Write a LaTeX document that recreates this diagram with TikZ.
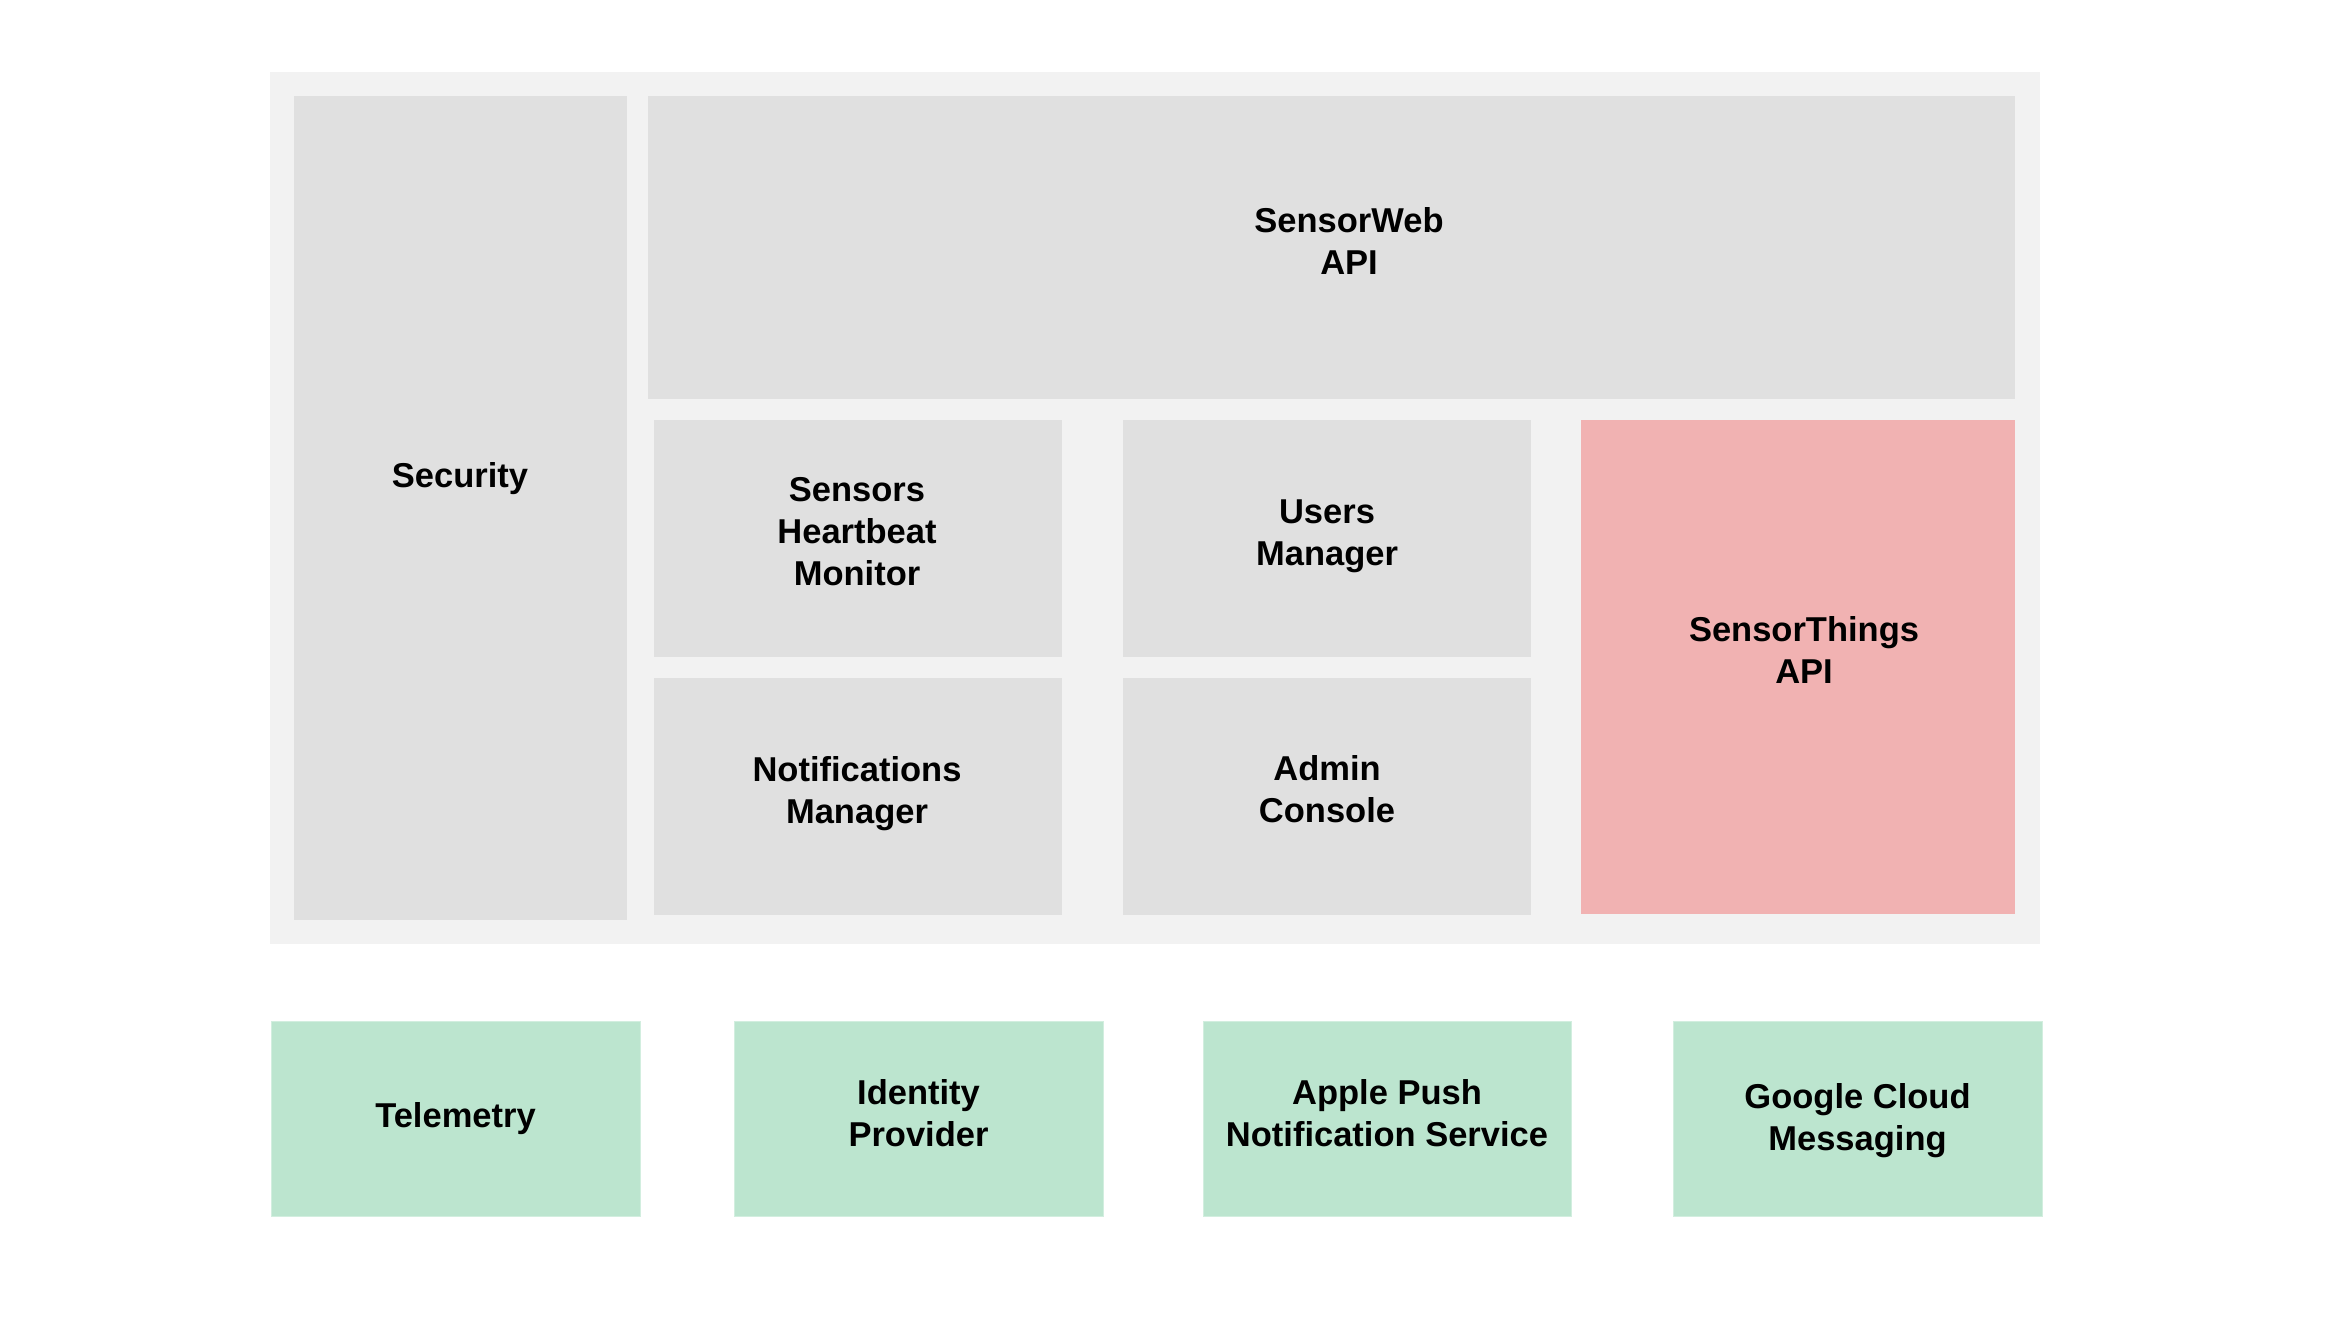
\documentclass[tikz,border=0pt]{standalone}
\usepackage{fontspec}
\setmainfont{Liberation Sans}
\definecolor{outerbg}{HTML}{F2F2F2}
\definecolor{boxgray}{HTML}{E0E0E0}
\definecolor{pinkbox}{HTML}{F1B2B2}
\definecolor{greenbox}{HTML}{BCE5CF}
\definecolor{greenedge}{HTML}{D2EEDF}
\tikzset{
  blk/.style={rectangle, inner sep=0pt, outer sep=0pt, draw=none},
  outerblk/.style={blk, fill=outerbg},
  grayblk/.style={blk, fill=boxgray},
  pinkblk/.style={blk, fill=pinkbox},
  greenblk/.style={blk, fill=greenbox, draw=greenedge, line width=1pt},
  lbl/.style={inner sep=0pt, align=center, text=black,
    font=\fontsize{34.5}{42}\selectfont\bfseries}
}
\begin{document}
\begin{tikzpicture}[x=1pt, y=-1pt]
\useasboundingbox (0,0) rectangle (2349,1329);
% outer container
\node[outerblk, minimum width=1770pt, minimum height=872pt] (outer) at (1155,508) {};
% gray blocks
\node[grayblk, minimum width=333pt, minimum height=824pt] (security) at (460.5,508) {};
\node[grayblk, minimum width=1367pt, minimum height=303pt] (sensorweb) at (1331.5,247.5) {};
\node[grayblk, minimum width=408pt, minimum height=237pt] (heartbeat) at (858,538.5) {};
\node[grayblk, minimum width=408pt, minimum height=237pt] (users) at (1327,538.5) {};
\node[grayblk, minimum width=408pt, minimum height=237pt] (notif) at (858,796.5) {};
\node[grayblk, minimum width=408pt, minimum height=237pt] (admin) at (1327,796.5) {};
\node[pinkblk, minimum width=434pt, minimum height=494pt] (things) at (1798,667) {};
% green external services
\node[greenblk, minimum width=369pt, minimum height=195pt] (telemetry) at (455.5,1118.5) {};
\node[greenblk, minimum width=369pt, minimum height=195pt] (identity) at (918.5,1118.5) {};
\node[greenblk, minimum width=368pt, minimum height=195pt] (apple) at (1387,1118.5) {};
\node[greenblk, minimum width=369pt, minimum height=195pt] (google) at (1857.5,1118.5) {};
% labels
\node[lbl] (securityT) at (460,479) {Security};
\node[lbl] (sensorwebT) at (1349,241) {SensorWeb\\API};
\node[lbl] (heartbeatT) at (857,531.5) {Sensors\\Heartbeat\\Monitor};
\node[lbl] (usersT) at (1327,536.5) {Users\\Manager};
\node[lbl] (notifT) at (857,794) {Notifications\\Manager};
\node[lbl] (adminT) at (1327,789.5) {Admin\\Console};
\node[lbl] (thingsT) at (1804,650) {SensorThings\\API};
\node[lbl] (telemetryT) at (455.5,1119) {Telemetry};
\node[lbl] (identityT) at (918.5,1113) {Identity\\Provider};
\node[lbl] (appleT) at (1387,1113) {Apple Push\\Notification Service};
\node[lbl] (googleT) at (1857.5,1120.5) {Google Cloud\\Messaging};
\end{tikzpicture}
\end{document}
